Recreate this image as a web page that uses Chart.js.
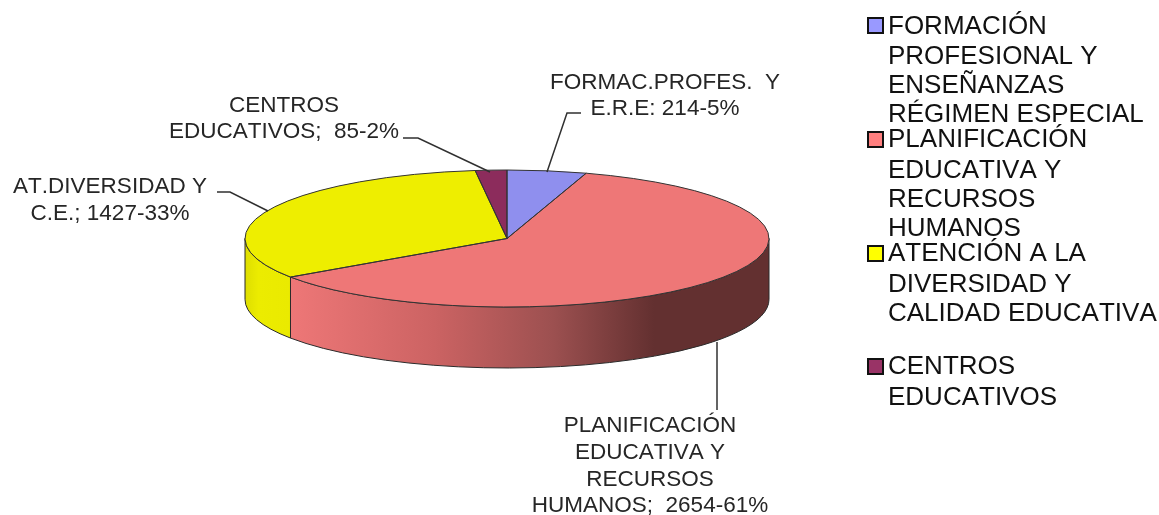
<!DOCTYPE html>
<html>
<head>
<meta charset="utf-8">
<script src="https://cdn.jsdelivr.net/npm/chart.js@4/dist/chart.umd.min.js"></script>
<style>
  html, body { margin: 0; padding: 0; background: #fff; }
  canvas { display: block; }
</style>
</head>
<body>
<canvas id="chart" width="1159" height="515"></canvas>
<script>
// Data
const categories = ['FORMACIÓN PROFESIONAL Y ENSEÑANZAS RÉGIMEN ESPECIAL', 'PLANIFICACIÓN EDUCATIVA Y RECURSOS HUMANOS', 'ATENCIÓN A LA DIVERSIDAD Y CALIDAD EDUCATIVA', 'CENTROS EDUCATIVOS'];
const values = [214, 2654, 1427, 85];
const sliceColors = ['#8f8fee', '#ee7777', '#eeee00', '#8c2c5c'];
const swatchColors = ['#9999ff', '#ff7f7f', '#ffff00', '#993366'];
const legendLines = [
    ['FORMACIÓN', 'PROFESIONAL Y', 'ENSEÑANZAS', 'RÉGIMEN ESPECIAL'],
    ['PLANIFICACIÓN', 'EDUCATIVA Y', 'RECURSOS', 'HUMANOS'],
    ['ATENCIÓN A LA', 'DIVERSIDAD Y', 'CALIDAD EDUCATIVA'],
    ['CENTROS', 'EDUCATIVOS']
];
const labelLines = [
    ['FORMAC.PROFES.  Y', 'E.R.E: 214-5%'],
    ['PLANIFICACIÓN', 'EDUCATIVA Y', 'RECURSOS', 'HUMANOS;  2654-61%'],
    ['AT.DIVERSIDAD Y', 'C.E.; 1427-33%'],
    ['CENTROS', 'EDUCATIVOS;  85-2%']
];

// Layout of the fake 3D pie
const PIE = { radius: 262, centerY: 238.5, squash: 68.5 / 262, depth: 61 };
const FONT_LABEL = '22.5px "Liberation Sans", Arial, sans-serif';
const FONT_LEGEND = '26px "Liberation Sans", Arial, sans-serif';
const labelBoxes = [
    { x: 665, y: [89, 115] },
    { x: 650, y: [432, 459, 486, 512] },
    { x: 110, y: [193, 220] },
    { x: 284, y: [112, 138] }
];
const leaders = [
    [[581, 113], [567, 113], [547, 172]],
    [[717, 342], [717, 410]],
    [[217, 192], [230, 192], [268, 211]],
    [[403, 138], [418, 138], [490, 172]]
];
const legendBoxes = [
    { swatchY: 18, y: [34, 64, 93, 122] },
    { swatchY: 132, y: [147, 178, 207, 236] },
    { swatchY: 246, y: [261, 292, 321] },
    { swatchY: 359, y: [374, 405] }
];

function sideFill(ctx, index) {
    if (index === 1) {
        const g = ctx.createLinearGradient(290, 0, 769, 0);
        g.addColorStop(0, '#ee7777');
        g.addColorStop(0.3, '#cc6363');
        g.addColorStop(0.55, '#9c5050');
        g.addColorStop(0.76, '#633030');
        g.addColorStop(1, '#633030');
        return g;
    }
    if (index === 2) {
        const g = ctx.createLinearGradient(245, 0, 290, 0);
        g.addColorStop(0, '#dede00');
        g.addColorStop(0.3, '#ecec00');
        g.addColorStop(1, '#eaea00');
        return g;
    }
    return sliceColors[index];
}

// Squash the library's round pie into an ellipse and put the wall under it
const pie3d = {
    id: 'pie3d',
    beforeDatasetsDraw(chart) {
        const ctx = chart.ctx;
        const arcs = chart.getDatasetMeta(0).data;
        const cx = arcs[0].x;
        const rx = PIE.radius;
        const ry = PIE.radius * PIE.squash;
        const cy = PIE.centerY;

        arcs.forEach((arc, i) => {
            const from = Math.max(arc.startAngle, 0);
            const to = Math.min(arc.endAngle, Math.PI);
            if (to <= from) return;
            ctx.beginPath();
            ctx.ellipse(cx, cy, rx, ry, 0, from, to);
            ctx.lineTo(cx + rx * Math.cos(to), cy + ry * Math.sin(to) + PIE.depth);
            ctx.ellipse(cx, cy + PIE.depth, rx, ry, 0, to, from, true);
            ctx.closePath();
            ctx.fillStyle = sideFill(ctx, i);
            ctx.fill();
            ctx.strokeStyle = '#2b2b2b';
            ctx.lineWidth = 1;
            ctx.stroke();
        });

        ctx.save();
        ctx.translate(0, cy);
        ctx.scale(1, PIE.squash);
        ctx.translate(0, -arcs[0].y);
    },
    afterDatasetsDraw(chart) {
        const ctx = chart.ctx;
        ctx.restore();

        const arcs = chart.getDatasetMeta(0).data;
        const cx = arcs[0].x;
        const rx = PIE.radius;
        const ry = PIE.radius * PIE.squash;
        const cy = PIE.centerY;

        // slice outlines, drawn here so the line keeps its width
        ctx.strokeStyle = '#333333';
        ctx.lineWidth = 1;
        arcs.forEach((arc) => {
            ctx.beginPath();
            ctx.moveTo(cx, cy);
            ctx.ellipse(cx, cy, rx, ry, 0, arc.startAngle, arc.endAngle);
            ctx.closePath();
            ctx.stroke();
        });

        // leader lines
        ctx.strokeStyle = '#303030';
        ctx.lineWidth = 1.5;
        leaders.forEach((pts) => {
            ctx.beginPath();
            pts.forEach((p, i) => (i ? ctx.lineTo(p[0], p[1]) : ctx.moveTo(p[0], p[1])));
            ctx.stroke();
        });

        // data labels, no kerning like the reference
        ctx.fontKerning = 'none';
        ctx.fillStyle = '#262626';
        ctx.font = FONT_LABEL;
        ctx.textAlign = 'center';
        ctx.textBaseline = 'alphabetic';
        labelLines.forEach((lines, i) => {
            lines.forEach((line, j) => ctx.fillText(line, labelBoxes[i].x, labelBoxes[i].y[j]));
        });

        // legend
        ctx.font = FONT_LEGEND;
        ctx.textAlign = 'left';
        legendLines.forEach((lines, i) => {
            const box = legendBoxes[i];
            ctx.fillStyle = swatchColors[i];
            ctx.fillRect(868, box.swatchY, 15, 15);
            ctx.strokeStyle = '#111111';
            ctx.lineWidth = 2;
            ctx.strokeRect(868, box.swatchY, 15, 15);
            ctx.fillStyle = '#111111';
            lines.forEach((line, j) => ctx.fillText(line, 888, box.y[j]));
        });
    }
};

new Chart(document.getElementById('chart'), {
    type: 'pie',
    data: {
        labels: categories,
        datasets: [{
            data: values,
            backgroundColor: sliceColors,
            borderWidth: 0,
            radius: PIE.radius,
            clip: false
        }]
    },
    options: {
        responsive: false,
        animation: false,
        layout: { padding: { right: 145 } },
        plugins: {
            legend: { display: false },
            tooltip: { enabled: false }
        }
    },
    plugins: [pie3d]
});
</script>
</body>
</html>
